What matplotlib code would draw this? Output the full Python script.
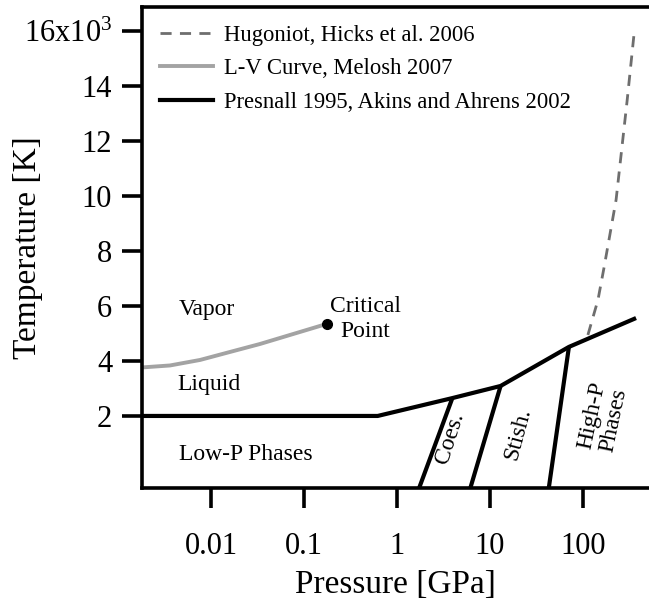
#!/usr/bin/env python3
'''Phase diagram of SiO2 in pressure-temperature space'''
import matplotlib
matplotlib.use('Agg')
import matplotlib.pyplot as plt

# L-V curve (Melosh 2007), pressure [GPa] / temperature [K]
lv_p = [0.00181, 0.00362, 0.00762, 0.016, 0.0337, 0.0707, 0.175]
lv_t = [3764, 3836, 4036, 4327, 4618, 4945, 5345]
crit_p = [0.175]
crit_t = [5345]

# melting curve (Presnall 1995, Akins and Ahrens 2002)
melt_p = [0.00181, 0.62, 3.94, 13.0, 70.6, 355]
melt_t = [2000, 2000, 2650, 3090, 4510, 5530]

# solid-solid boundaries: top point on melt curve, bottom on axis
coes_p = [3.94, 1.73]
coes_t = [2650, -620]
stish_p = [13.0, 6.15]
stish_t = [3090, -620]
highp_p = [70.6, 42.9]
highp_t = [4510, -620]

# Hugoniot (Hicks et al. 2006)
hug_p = [113, 145, 169, 227, 299, 356]
hug_t = [4945, 6220, 7420, 9855, 13490, 15960]

yticks = [2000, 4000, 6000, 8000, 10000, 12000, 14000, 16000]
ytick_labels = ['2', '4', '6', '8', '10', '12', '14', '16x10$^3$']
xticks = [0.01, 0.1, 1, 10, 100]
xtick_labels = ['0.01', '0.1', '1', '10', '100']

plt.rcParams['font.family'] = ['Liberation Serif', 'DejaVu Serif']
plt.rcParams['mathtext.fontset'] = 'custom'
plt.rcParams['mathtext.rm'] = 'Liberation Serif'
plt.rcParams['mathtext.default'] = 'rm'

fig = plt.figure(figsize=(6.49, 6.03), dpi=100)
ax = fig.add_axes([0.2188, 0.1907, 0.7812, 0.7977])

ax.plot(hug_p, hug_t, color='#6e6e6e', lw=2, dashes=(4, 3),
        label='Hugoniot, Hicks et al. 2006')
ax.plot(lv_p, lv_t, color='#a3a3a3', lw=2.8,
        label='L-V Curve, Melosh 2007')
ax.plot(melt_p, melt_t, color='black', lw=3,
        label='Presnall 1995, Akins and Ahrens 2002')
for xs, ys in ((coes_p, coes_t), (stish_p, stish_t), (highp_p, highp_t)):
    ax.plot(xs, ys, color='black', lw=3, solid_capstyle='butt')
ax.plot(crit_p, crit_t, 'o', color='black', ms=7)

ax.set_xscale('log')
ax.set_xlim(0.00181, 513)
ax.set_ylim(-620, 16870)
ax.set_xticks(xticks)
ax.set_xticklabels(xtick_labels)
ax.minorticks_off()
ax.set_yticks(yticks)
ax.set_yticklabels(ytick_labels)

ax.spines['right'].set_visible(False)
for side in ('left', 'bottom', 'top'):
    ax.spines[side].set_linewidth(2.6)
ax.tick_params(axis='both', direction='out', length=14.5, width=2.6,
               labelsize=22)
ax.tick_params(axis='x', pad=17)
ax.tick_params(axis='y', pad=7)

ax.set_xlabel('Pressure [GPa]', fontsize=24, labelpad=6)
ax.set_ylabel('Temperature [K]', fontsize=24)
ax.yaxis.set_label_coords(-0.195, 0.5)

txt = dict(fontsize=17, color='black')
ax.text(0.0091, 5855, 'Vapor', ha='center', va='center', **txt)
ax.text(0.0095, 3127, 'Liquid', ha='center', va='center', **txt)
ax.text(0.0238, 582, 'Low-P Phases', ha='center', va='center', **txt)
ax.text(0.46, 5527, 'Critical\nPoint', ha='center', va='center',
        linespacing=1.25, **txt)
ax.text(3.72, 1200, 'Coes.', ha='center', va='center', rotation=72, **txt)
ax.text(20, 1345, 'Stish.', ha='center', va='center', rotation=75, **txt)
ax.text(164, 1930, 'High-P\nPhases', ha='center', va='center',
        rotation=78, linespacing=1.05, **txt)

ax.legend(loc='upper left', frameon=False, fontsize=16.3,
          handlelength=2.35, handletextpad=0.45, labelspacing=0.54,
          borderaxespad=0.4, bbox_to_anchor=(0.0, 1.0))

fig.savefig('out.png', dpi=100)
